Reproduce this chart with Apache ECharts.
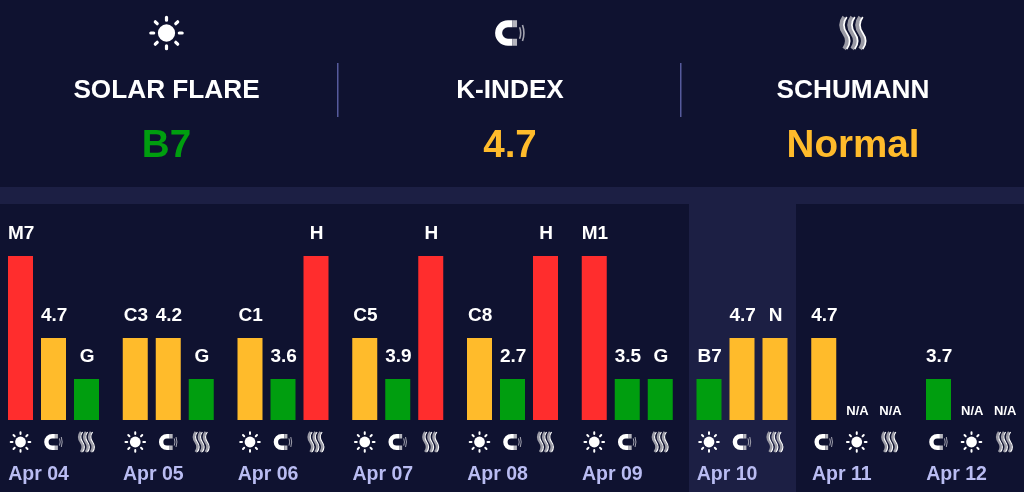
<!DOCTYPE html>
<html style="height: 100%">
<head>
    <meta charset="UTF-8">
    <title>Space weather</title>
    <style>
        html, body { margin: 0; background: #0f1230; overflow: hidden; }
    </style>
</head>
<body style="height: 100%; margin: 0">
<div id="container" style="width: 1024px; height: 492px"></div>

<script type="text/javascript" src="https://cdn.jsdelivr.net/npm/echarts@6/dist/echarts.min.js"></script>
<script type="text/javascript">
    var days = ['Apr 04', 'Apr 05', 'Apr 06', 'Apr 07', 'Apr 08', 'Apr 09', 'Apr 10', 'Apr 11', 'Apr 12'];

    // bar height levels: 0 none, 1 low, 2 medium, 4 high
    var firstLevels = [4, 2, 2, 2, 2, 4, 1, 2, 1];
    var secondLevels = [2, 2, 1, 1, 1, 1, 2, 0, 0];
    var thirdLevels = [1, 1, 4, 4, 4, 1, 2, 0, 0];

    var firstLabels = ['M7', 'C3', 'C1', 'C5', 'C8', 'M1', 'B7', '4.7', '3.7'];
    var secondLabels = ['4.7', '4.2', '3.6', '3.9', '2.7', '3.5', '4.7', 'N/A', 'N/A'];
    var thirdLabels = ['G', 'G', 'H', 'H', 'H', 'G', 'N', 'N/A', 'N/A'];

    var firstIcons = ['sun', 'sun', 'sun', 'sun', 'sun', 'sun', 'sun', 'magnet', 'magnet'];
    var secondIcons = ['magnet', 'magnet', 'magnet', 'magnet', 'magnet', 'magnet', 'magnet', 'sun', 'sun'];
    var thirdIcons = ['waves', 'waves', 'waves', 'waves', 'waves', 'waves', 'waves', 'waves', 'waves'];

    var headerTitles = ['SOLAR FLARE', 'K-INDEX', 'SCHUMANN'];
    var headerValues = ['B7', '4.7', 'Normal'];
    var headerIcons = ['sun', 'magnet', 'waves'];
    var headerCenters = [166.5, 510, 853];

    var levelColors = {1: '#009e0f', 2: '#ffbb2b', 4: '#ff2d2d'};
    var headerColors = ['#009e0f', '#ffbb2b', '#ffbb2b'];
    var font = '"Liberation Sans", Arial, sans-serif';

    var dom = document.getElementById("container");
    var myChart = echarts.init(dom);

    // icons are drawn around 0,0 so they can be placed and scaled as a group
    function iconParts(name) {
        if (name === 'sun') {
            return [
                {type: 'circle', shape: {cx: 0, cy: 0, r: 5.4}, style: {fill: '#fff'}},
                {type: 'path', shape: {pathData: 'M0 -9.8V-8M0 8V9.8M-9.8 0H-8M8 0H9.8M-7 -7L-5.8 -5.8M5.8 5.8L7 7M7 -7L5.8 -5.8M-5.8 5.8L-7 7'},
                    style: {fill: 'none', stroke: '#fff', lineWidth: 2, lineCap: 'round'}}
            ];
        }
        if (name === 'magnet') {
            return [
                {type: 'path', shape: {pathData: 'M1.4 -8H-1.3A8 8 0 0 0 -1.3 8H1.4V3.6H-1.3A3.6 3.6 0 0 1 -1.3 -3.6H1.4Z'}, style: {fill: '#fff'}},
                {type: 'path', shape: {pathData: 'M1.4 -8H4.4V-3.6H1.4ZM1.4 3.6H4.4V8H1.4Z'}, style: {fill: '#b4b4bc'}},
                {type: 'path', shape: {pathData: 'M6 -3.6Q7.4 0 6 3.6M7.8 -5Q9.6 0 7.8 5'},
                    style: {fill: 'none', stroke: '#a4a4b0', lineWidth: 1}}
            ];
        }
        var parts = [];
        [-5, 0, 5].forEach(function (x) {
            parts.push({type: 'path', shape: {pathData: 'M' + (x - 0.5) + ' -10q-3.6 5 0 10q3.6 5 0 10'},
                style: {fill: 'none', stroke: '#9a9aa5', lineWidth: 2.6}});
            parts.push({type: 'path', shape: {pathData: 'M' + (x + 1.1) + ' -10q-3.6 5 0 10q3.6 5 0 10'},
                style: {fill: 'none', stroke: '#fff', lineWidth: 1.1}});
        });
        return parts;
    }

    function barSeries(levels, labels) {
        return {
            type: 'bar',
            barWidth: 25,
            barGap: '32%',
            data: levels.map(function (level, i) {
                var na = labels[i] === 'N/A';
                return {
                    value: level,
                    itemStyle: {color: levelColors[level] || 'transparent'},
                    label: {
                        show: true,
                        position: 'top',
                        distance: na ? 2 : 12.5,
                        offset: [0.7, 0],
                        formatter: labels[i],
                        color: '#fff',
                        fontFamily: font,
                        fontWeight: 'bold',
                        fontSize: na ? 13 : 19
                    }
                };
            })
        };
    }

    // one row per icon: day index, baseline, slot in the day, icon name
    var iconRows = [];
    [firstIcons, secondIcons, thirdIcons].forEach(function (icons, slot) {
        icons.forEach(function (name, i) {
            iconRows.push([i, 0, slot, name]);
        });
    });

    var graphics = [
        {type: 'rect', z: -2, shape: {x: 0, y: 187, width: 1024, height: 17}, style: {fill: '#1c1f44'}},
        {type: 'rect', z: -2, shape: {x: 689, y: 204, width: 107, height: 288}, style: {fill: '#1c1f44'}},
        {type: 'rect', z: -1, shape: {x: 337, y: 63, width: 1.5, height: 54}, style: {fill: '#565a9c'}},
        {type: 'rect', z: -1, shape: {x: 680, y: 63, width: 1.5, height: 54}, style: {fill: '#565a9c'}}
    ];
    headerTitles.forEach(function (title, i) {
        graphics.push({type: 'text', x: headerCenters[i], y: 90.5, style: {
            text: title, align: 'center', verticalAlign: 'middle', fill: '#fff', font: 'bold 26.2px ' + font
        }});
        graphics.push({type: 'text', x: headerCenters[i], y: 146.5, style: {
            text: headerValues[i], align: 'center', verticalAlign: 'middle', fill: headerColors[i], font: 'bold 38.6px ' + font
        }});
    });

    var option = {
        animation: false,
        backgroundColor: '#0f1230',
        graphic: graphics,
        grid: {left: -3.875, top: 215, width: 1032.75, height: 205, outerBoundsMode: 'none'},
        xAxis: {
            type: 'category',
            data: days,
            axisLine: {show: false},
            axisTick: {show: false},
            axisLabel: {
                interval: 0,
                margin: 45,
                padding: [0, 30, 0, 0],
                color: '#b9bcf2',
                fontFamily: font,
                fontWeight: 'bold',
                fontSize: 19.5
            }
        },
        yAxis: {type: 'value', min: 0, max: 5, interval: 1, show: false},
        series: [
            barSeries(firstLevels, firstLabels),
            barSeries(secondLevels, secondLabels),
            barSeries(thirdLevels, thirdLabels),
            {
                type: 'custom',
                clip: false,
                encode: {x: 0, y: 1},
                data: iconRows,
                renderItem: function (params, api) {
                    var row = iconRows[params.dataIndex];
                    var base = api.coord([row[0], 0]);
                    return {
                        type: 'group',
                        x: base[0] + (row[2] - 1) * 33,
                        y: base[1] + 22,
                        children: iconParts(row[3])
                    };
                }
            },
            {
                // header icons sit outside the grid, placed by pixel
                type: 'custom',
                coordinateSystem: 'none',
                data: headerIcons.map(function (name, i) { return [headerCenters[i], name]; }),
                renderItem: function (params) {
                    return {
                        type: 'group',
                        x: headerCenters[params.dataIndex],
                        y: 33,
                        scaleX: 1.6,
                        scaleY: 1.6,
                        children: iconParts(headerIcons[params.dataIndex])
                    };
                }
            }
        ]
    };
    myChart.setOption(option);
</script>
</body>
</html>
